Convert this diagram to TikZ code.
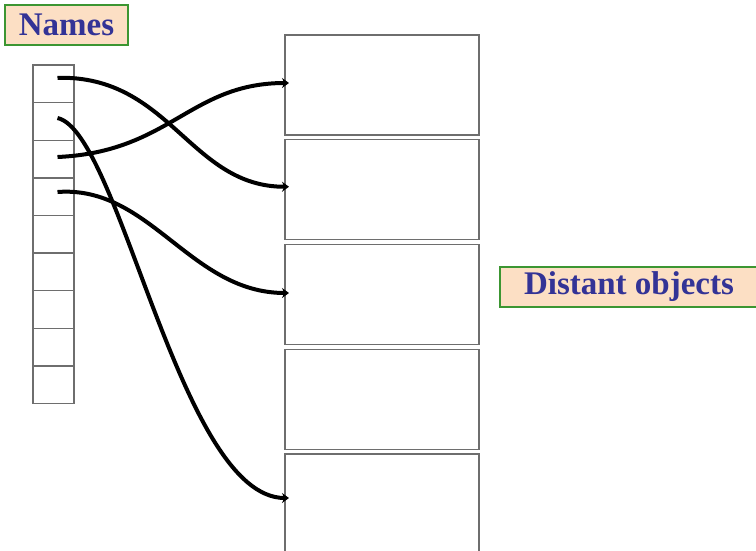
\documentclass[tikz,border=0pt]{standalone}
\usepackage{fontspec}
\newfontfamily\labelfont{Liberation Serif}
\usetikzlibrary{arrows.meta}

\definecolor{peach}{RGB}{252,223,196}
\definecolor{boxgreen}{RGB}{60,150,50}
\definecolor{inkblue}{RGB}{51,51,150}
\definecolor{framegray}{RGB}{110,110,110}

\tikzset{
  tag/.style={draw=boxgreen,line width=1.2pt,fill=peach,text=inkblue,
    font=\labelfont\bfseries\fontsize{33}{37}\selectfont,inner sep=0pt,outer sep=0pt},
  cell/.style={draw=framegray,line width=1.4pt,minimum width=41pt,minimum height=37.6pt,
    inner sep=0pt,outer sep=0pt},
  slot/.style={draw=framegray,line width=1.4pt,minimum width=194pt,minimum height=100pt,
    inner sep=0pt,outer sep=0pt},
  link/.style={line width=4pt,-{Stealth[length=7pt,width=10pt]},shorten >=-4pt}
}

\begin{document}
\begin{tikzpicture}[x=1pt,y=1pt,yscale=-1,xscale=1]
\useasboundingbox (0,0) rectangle (756,550);

%Shape: name table
\foreach \i in {1,...,9}
  \node [cell] (c\i) at (53.5,46.2+37.6*\i) {};

%Shape: object store
\foreach \i in {1,...,5}
  \node [slot] (o\i) at (382,-19.75+104.75*\i) {};

%Curve Lines
\draw [link] ([xshift=4pt,yshift=-6pt]c1.center) .. controls (170,75) and (190,187) .. ([yshift=-3pt]o2.west);
\draw [link] ([xshift=4pt,yshift=-3.4pt]c2.center) .. controls (120,132) and (180,498) .. ([yshift=-6pt]o5.west);
\draw [link] ([xshift=4pt,yshift=-2pt]c3.center) .. controls (170,152) and (190,83) .. ([yshift=-2pt]o1.west);
\draw [link] ([xshift=4pt,yshift=-4.6pt]c4.center) .. controls (150,185) and (190,293) .. ([yshift=-1.5pt]o3.west);

% Text Node
\node [tag,minimum width=123pt,minimum height=40pt] (names) at (66.5,25) {Names};
% Text Node
\node [tag,minimum width=258pt,minimum height=40pt] (distant) at (629,287) {Distant objects};

\end{tikzpicture}
\end{document}
